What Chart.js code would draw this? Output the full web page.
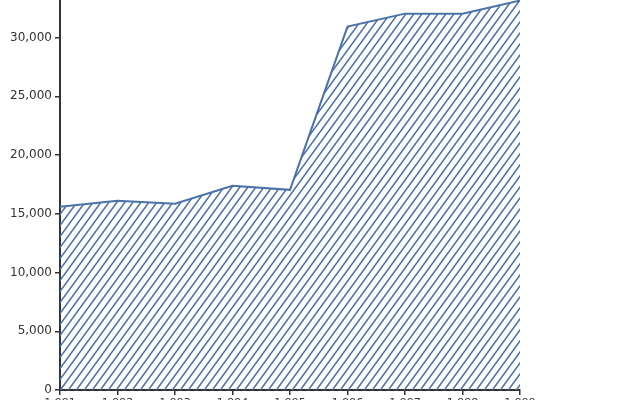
<!DOCTYPE html>
<html>
<head>
<meta charset="utf-8">
<script src="https://cdn.jsdelivr.net/npm/chart.js@4"></script>
<style>
html,body{margin:0;padding:0;background:#fff;}
#wrap{width:640px;height:400px;}
</style>
</head>
<body>
<div id="wrap"><canvas id="c" width="640" height="400"></canvas></div>
<script>
const years = [1991, 1992, 1993, 1994, 1995, 1996, 1997, 1998, 1999];
const values = [15600, 16100, 15850, 17380, 17040, 30940, 32040, 32040, 33150];
const yTicks = [0, 5000, 10000, 15000, 20000, 25000, 30000];

const blue = '#4a72a8';
function makePattern() {
  const w = 8, h = 11;
  const c = document.createElement('canvas');
  c.width = w; c.height = h;
  const g = c.getContext('2d');
  g.strokeStyle = blue;
  g.lineWidth = 1.6;
  g.beginPath();
  g.moveTo(-w, 2 * h); g.lineTo(2 * w, -h);
  g.moveTo(-2 * w, 2 * h); g.lineTo(w, -h);
  g.moveTo(0, 2 * h); g.lineTo(3 * w, -h);
  g.stroke();
  return g.createPattern(c, 'repeat');
}

const ctx = document.getElementById('c').getContext('2d');
new Chart(ctx, {
  type: 'line',
  data: {
    labels: years.map(y => y.toLocaleString('en-US')),
    datasets: [{
      data: values,
      borderColor: blue,
      borderWidth: 2,
      backgroundColor: makePattern(),
      fill: 'origin',
      pointRadius: 0,
      tension: 0
    }]
  },
  options: {
    responsive: false,
    animation: false,
    layout: { padding: { left: 0, right: 120, top: 0, bottom: 0 } },
    plugins: { legend: { display: false }, tooltip: { enabled: false } },
    scales: {
      x: {
        offset: false,
        grid: { display: true, drawOnChartArea: false, drawTicks: true, tickLength: 5, color: '#333', lineWidth: 1.5 },
        border: { display: true, color: '#333', width: 2 },
        ticks: { color: '#333', font: { family: 'DejaVu Sans', size: 11 }, padding: 2, maxRotation: 0, autoSkip: false },
        afterFit: s => { s.height = 10; s.paddingLeft = 0; s.paddingRight = 0; }
      },
      y: {
        min: 0,
        max: 33200,
        afterBuildTicks: s => { s.ticks = yTicks.map(v => ({ value: v })); },
        grid: { display: true, drawOnChartArea: false, drawTicks: true, tickLength: 5, color: '#333', lineWidth: 1.5 },
        border: { display: true, color: '#333', width: 2 },
        ticks: { color: '#333', font: { family: 'DejaVu Sans', size: 12 }, padding: 3,
          callback: v => v.toLocaleString('en-US') },
        afterFit: s => { s.width = 60; s.paddingTop = 0; s.paddingBottom = 0; }
      }
    }
  }
});
</script>
</body>
</html>
